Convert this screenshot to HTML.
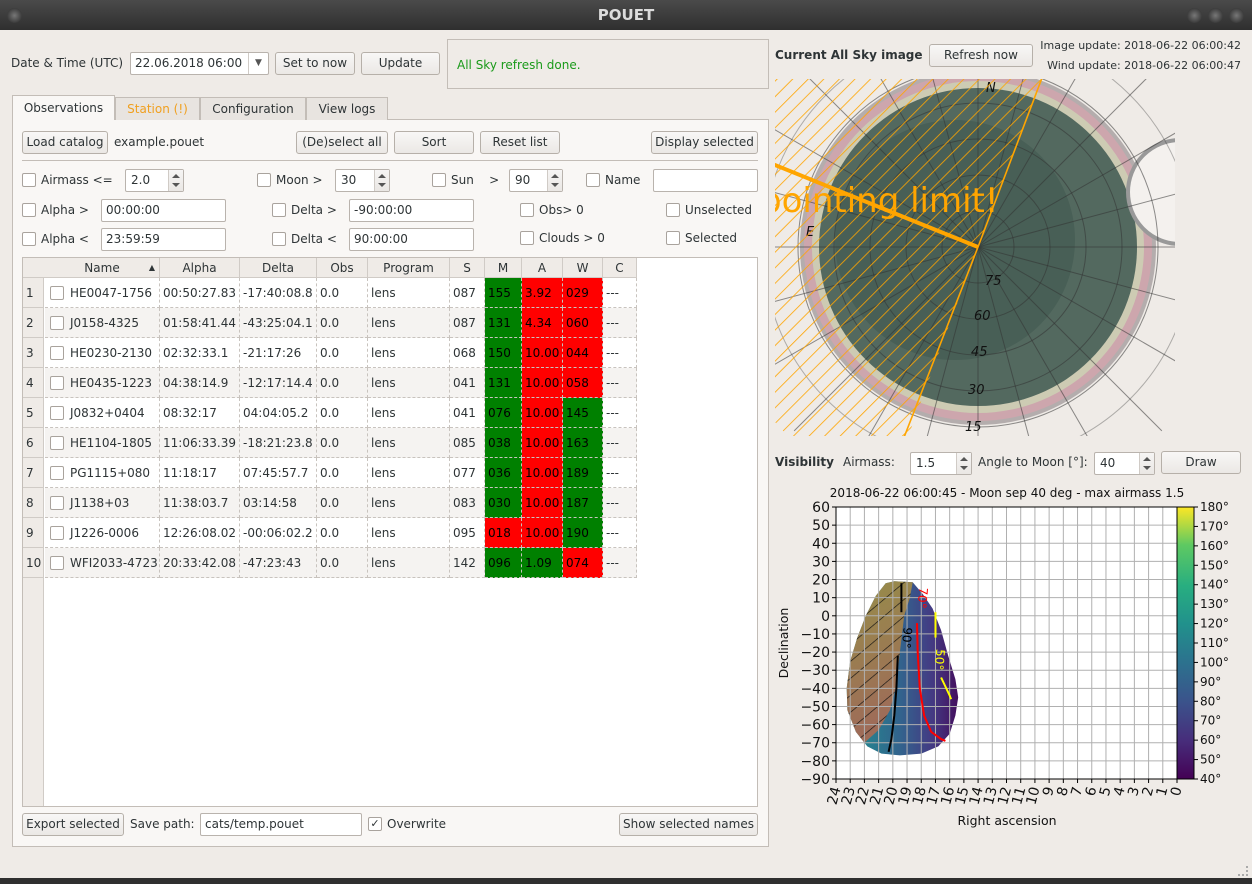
<!DOCTYPE html>
<html><head><meta charset="utf-8">
<style>
*{box-sizing:border-box;margin:0;padding:0}
body{width:1252px;height:884px;overflow:hidden;background:#efebe7;font-family:"DejaVu Sans","Liberation Sans",sans-serif;font-size:12px;color:#2e3436;position:relative}
.a{position:absolute;white-space:nowrap}
.btn{position:absolute;height:23px;border:1px solid #b6b0a9;border-radius:3px;background:linear-gradient(#f8f7f6,#ebe8e5);text-align:center;line-height:21px;font-size:12px;color:#2e3436}
.inp{position:absolute;height:23px;border:1px solid #b9b3ad;border-radius:2px;background:#fff;line-height:21px;padding-left:4px;font-size:12px}
.spin{position:absolute;height:23px;border:1px solid #b9b3ad;border-radius:2px;background:#fff;line-height:21px;padding-left:5px}
.spin:after{content:"";position:absolute;right:0;top:0;width:14px;height:21px;border-left:1px solid #d0cbc6;background:linear-gradient(#f6f5f4,#eae7e4)}
.spin i{position:absolute;right:3px;width:0;height:0;border-left:4px solid transparent;border-right:4px solid transparent;z-index:2}
.spin i.u{top:4px;border-bottom:4px solid #555}
.spin i.d{bottom:4px;border-top:4px solid #555}
.cb{position:absolute;width:14px;height:14px;border:1px solid #a9a39d;border-radius:2px;background:#fff}
.tab{position:absolute;top:97px;height:23px;border:1px solid #c3bdb7;border-bottom:none;background:#e8e4e0;text-align:center;line-height:22px}
</style></head><body>
<div class="a" style="left:0;top:0;width:1252px;height:30px;background:linear-gradient(#4a4a4a,#2f2f2f)"></div>
<div class="a" style="left:0;top:6px;width:1252px;text-align:center;color:#dcdcdc;font-weight:bold;font-size:15px">POUET</div>
<div class="a" style="left:7px;top:8px;width:15px;height:15px;border-radius:50%;background:radial-gradient(#777,#222)"></div>
<div class="a" style="left:1187px;top:8px;width:15px;height:15px;border-radius:50%;background:radial-gradient(#777,#222)"></div>
<div class="a" style="left:1208px;top:8px;width:15px;height:15px;border-radius:50%;background:radial-gradient(#777,#222)"></div>
<div class="a" style="left:1229px;top:8px;width:15px;height:15px;border-radius:50%;background:radial-gradient(#777,#222)"></div>
<div class="a" style="left:0;top:878px;width:1252px;height:6px;background:#2f2f2f"></div>

<div class="a" style="left:11px;top:56px">Date &amp; Time (UTC)</div>
<div class="inp" style="left:130px;top:52px;width:139px">22.06.2018 06:00<span style="position:absolute;right:0;top:0;width:20px;height:21px;border-left:1px solid #d0cbc6;text-align:center;font-size:9px;color:#555">▼</span></div>
<div class="btn" style="left:275px;top:52px;width:80px">Set to now</div>
<div class="btn" style="left:361px;top:52px;width:79px">Update</div>
<div class="a" style="left:447px;top:39px;width:322px;height:50px;border:1px solid #c3bdb7"></div>
<div class="a" style="left:457px;top:58px;color:#1a9a1a">All Sky refresh done.</div>

<div class="a" style="left:12px;top:119px;width:757px;height:728px;border:1px solid #c3bdb7;background:#f9f7f5"></div>
<div class="tab" style="left:12px;top:95px;width:103px;height:25px;background:#f9f7f5;line-height:25px">Observations</div>
<div class="tab" style="left:115px;width:85px;color:#f0a020">Station (!)</div>
<div class="tab" style="left:200px;width:106px">Configuration</div>
<div class="tab" style="left:306px;width:82px">View logs</div>

<div class="btn" style="left:22px;top:131px;width:86px">Load catalog</div>
<div class="a" style="left:114px;top:135px">example.pouet</div>
<div class="btn" style="left:296px;top:131px;width:92px">(De)select all</div>
<div class="btn" style="left:394px;top:131px;width:80px">Sort</div>
<div class="btn" style="left:480px;top:131px;width:80px">Reset list</div>
<div class="btn" style="left:651px;top:131px;width:107px">Display selected</div>
<div class="a" style="left:22px;top:160px;width:736px;height:1px;background:#c3bdb7"></div>

<div class="cb" style="left:22px;top:173px"></div>
<div class="a" style="left:41px;top:173px">Airmass &lt;=</div>
<div class="spin" style="left:125px;top:169px;width:59px">2.0<i class="u"></i><i class="d"></i></div>
<div class="cb" style="left:257px;top:173px"></div>
<div class="a" style="left:276px;top:173px">Moon &gt;</div>
<div class="spin" style="left:335px;top:169px;width:55px">30<i class="u"></i><i class="d"></i></div>
<div class="cb" style="left:432px;top:173px"></div>
<div class="a" style="left:451px;top:173px">Sun &nbsp;&nbsp;&nbsp;&gt;</div>
<div class="spin" style="left:509px;top:169px;width:54px">90<i class="u"></i><i class="d"></i></div>
<div class="cb" style="left:586px;top:173px"></div>
<div class="a" style="left:605px;top:173px">Name</div>
<div class="inp" style="left:653px;top:169px;width:105px"></div>

<div class="cb" style="left:22px;top:203px"></div>
<div class="a" style="left:41px;top:203px">Alpha &gt;</div>
<div class="inp" style="left:101px;top:199px;width:125px">00:00:00</div>
<div class="cb" style="left:272px;top:203px"></div>
<div class="a" style="left:291px;top:203px">Delta &gt;</div>
<div class="inp" style="left:349px;top:199px;width:125px">-90:00:00</div>
<div class="cb" style="left:520px;top:203px"></div>
<div class="a" style="left:539px;top:203px">Obs&gt; 0</div>
<div class="cb" style="left:666px;top:203px"></div>
<div class="a" style="left:685px;top:203px">Unselected</div>

<div class="cb" style="left:22px;top:232px"></div>
<div class="a" style="left:41px;top:232px">Alpha &lt;</div>
<div class="inp" style="left:101px;top:228px;width:125px">23:59:59</div>
<div class="cb" style="left:272px;top:232px"></div>
<div class="a" style="left:291px;top:232px">Delta &lt;</div>
<div class="inp" style="left:349px;top:228px;width:125px">90:00:00</div>
<div class="cb" style="left:520px;top:231px"></div>
<div class="a" style="left:539px;top:231px">Clouds &gt; 0</div>
<div class="cb" style="left:666px;top:231px"></div>
<div class="a" style="left:685px;top:231px">Selected</div>

<div class="a" style="left:22px;top:257px;width:736px;height:550px;border:1px solid #c3bdb7;background:#fff;overflow:hidden">
<div class="a" style="left:0;top:0;width:21px;height:550px;background:#efebe7;border-right:1px solid #d0cbc6"></div>
<div id="tbl"></div>
</div>

<div class="btn" style="left:22px;top:813px;width:102px">Export selected</div>
<div class="a" style="left:130px;top:817px">Save path:</div>
<div class="inp" style="left:200px;top:813px;width:162px">cats/temp.pouet</div>
<div class="cb" style="left:368px;top:817px;font-size:11px;line-height:12px;text-align:center">✓</div>
<div class="a" style="left:387px;top:817px">Overwrite</div>
<div class="btn" style="left:619px;top:813px;width:139px">Show selected names</div>

<div class="a" style="left:775px;top:48px;font-weight:bold">Current All Sky image</div>
<div class="btn" style="left:929px;top:44px;width:104px">Refresh now</div>
<div class="a" style="right:11px;top:39px;font-size:11px">Image update: 2018-06-22 06:00:42</div>
<div class="a" style="right:11px;top:59px;font-size:11px">Wind update: 2018-06-22 06:00:47</div>

<svg class="a" style="left:775px;top:79px" width="400" height="357" viewBox="775 79 400 357">
<defs>
<clipPath id="hc"><circle cx="978" cy="247" r="268"/></clipPath>
<pattern id="hp" width="11" height="11" patternUnits="userSpaceOnUse" patternTransform="rotate(-45)"><line x1="0" y1="0" x2="11" y2="0" stroke="#ffa500" stroke-width="1.6"/></pattern>
</defs>
<circle cx="978" cy="247" r="178" fill="#b4adad"/>
<circle cx="978" cy="247" r="174" fill="#cda6ad"/>
<circle cx="978" cy="247" r="166" fill="#cdcbb3"/>
<circle cx="978" cy="247" r="159" fill="#53695f"/>
<circle cx="955" cy="240" r="120" fill="#485f56"/>
<circle cx="1180" cy="192" r="52" fill="#f4f1ee" stroke="#999" stroke-width="4"/>
<g fill="none" stroke="#333" stroke-opacity="0.55" stroke-width="1">
<circle cx="978" cy="247" r="36"/><circle cx="978" cy="247" r="72"/><circle cx="978" cy="247" r="108"/><circle cx="978" cy="247" r="144"/><circle cx="978" cy="247" r="180"/><circle cx="978" cy="247" r="215" stroke-opacity="0.35"/>
<g id="spokes"></g>
</g>
<g font-size="13" font-style="italic" fill="#111">
<text x="985" y="285">75</text><text x="974" y="320">60</text><text x="971" y="356">45</text><text x="968" y="394">30</text><text x="965" y="431">15</text><text x="986" y="92">N</text><text x="806" y="236">E</text>
</g>
<path d="M978,247 L1045,70 L760,70 L760,445 L905,445 Z" fill="url(#hp)" clip-path="url(#hc)"/>
<path d="M978,247 L1045,70 M978,247 L903,440" stroke="#ffa500" stroke-width="1.6"/>
<line x1="978" y1="247" x2="770" y2="163" stroke="#ffa500" stroke-width="4"/>
<text x="760" y="212" font-size="34" fill="#ffa500">pointing limit!</text>
</svg>

<div class="a" style="left:775px;top:455px;font-weight:bold">Visibility</div>
<div class="a" style="left:843px;top:455px">Airmass:</div>
<div class="spin" style="left:910px;top:452px;width:62px">1.5<i class="u"></i><i class="d"></i></div>
<div class="a" style="left:978px;top:455px">Angle to Moon [°]:</div>
<div class="spin" style="left:1094px;top:452px;width:61px">40<i class="u"></i><i class="d"></i></div>
<div class="btn" style="left:1161px;top:451px;width:80px">Draw</div>

<svg class="a" id="chart" style="left:0;top:0" width="1252" height="884" viewBox="0 0 1252 884"></svg>
<div class="a" style="left:1238px;top:866px;width:10px;height:10px;border-right:2px dotted #aaa;border-bottom:2px dotted #aaa"></div>

<script>
// ---- table data ----
const names=["HE0047-1756","J0158-4325","HE0230-2130","HE0435-1223","J0832+0404","HE1104-1805","PG1115+080","J1138+03","J1226-0006","WFI2033-4723"];
const alphas=["00:50:27.83","01:58:41.44","02:32:33.1","04:38:14.9","08:32:17","11:06:33.39","11:18:17","11:38:03.7","12:26:08.02","20:33:42.08"];
const deltas=["-17:40:08.8","-43:25:04.1","-21:17:26","-12:17:14.4","04:04:05.2","-18:21:23.8","07:45:57.7","03:14:58","-00:06:02.2","-47:23:43"];
const sVals=["087","087","068","041","041","085","077","083","095","142"];
const mVals=["155","131","150","131","076","038","036","030","018","096"];
const aVals=["3.92","4.34","10.00","10.00","10.00","10.00","10.00","10.00","10.00","1.09"];
const wVals=["029","060","044","058","145","163","189","187","190","074"];
const mOk=[1,1,1,1,1,1,1,1,0,1];
const aOk=[0,0,0,0,0,0,0,0,0,1];
const wOk=[0,0,0,0,1,1,1,1,1,0];
const cols=[["Name",22,137],["Alpha",137,217],["Delta",217,294],["Obs",294,345],["Program",345,427],["S",427,462],["M",462,499],["A",499,540],["W",540,580],["C",580,614]];
const tbl=document.getElementById('tbl');
let h='<div class="a" style="left:0;top:0;width:614px;height:20px;background:#efebe7;border-bottom:1px solid #d0cbc6"></div>';
cols.forEach(c=>{h+=`<div class="a" style="left:${c[1]}px;top:0;width:${c[2]-c[1]}px;height:20px;line-height:20px;text-align:center;border-right:1px solid #d0cbc6">${c[0]}${c[0]=="Name"?'<span style="position:absolute;right:4px;font-size:8px">▲</span>':''}</div>`;});
names.forEach((n,i)=>{
 const y=20+i*30, bg=i%2?'#f5f3f1':'#fff';
 h+=`<div class="a" style="left:0;top:${y}px;width:21px;height:30px;line-height:30px;padding-left:3px;border-bottom:1px solid #d0cbc6">${i+1}</div>`;
 const vals=[n,alphas[i],deltas[i],"0.0","lens",sVals[i],mVals[i],aVals[i],wVals[i],"---"];
 const colr=[null,null,null,null,null,null,mOk[i]?'#008000':'#ff0000',aOk[i]?'#008000':'#ff0000',wOk[i]?'#008000':'#ff0000',null];
 cols.forEach((c,j)=>{
  const b=colr[j]||bg;
  h+=`<div class="a" style="left:${c[1]}px;top:${y}px;width:${c[2]-c[1]}px;height:30px;line-height:30px;padding-left:${j==0?25:3}px;background:${b};color:${colr[j]?'#000':'#2e3436'};border-right:1px dashed #c8c3be;border-bottom:1px dashed #c8c3be">${vals[j]}</div>`;
  if(j==0) h+=`<div class="cb" style="left:${c[1]+5}px;top:${y+8}px"></div>`;
 });
});
tbl.innerHTML=h;

// ---- allsky spokes ----
const sp=document.getElementById('spokes');let s='';
for(let a=0;a<360;a+=15){const r=a*Math.PI/180;s+=`<line x1="978" y1="247" x2="${978+260*Math.cos(r)}" y2="${247+260*Math.sin(r)}"/>`;}
sp.innerHTML=s;

// ---- visibility chart data ----
const raTicks=[24,23,22,21,20,19,18,17,16,15,14,13,12,11,10,9,8,7,6,5,4,3,2,1,0];
const decTicks=[60,50,40,30,20,10,0,-10,-20,-30,-40,-50,-60,-70,-80,-90];
const cbTicks=[40,50,60,70,80,90,100,110,120,130,140,150,160,170,180];
const visibleRegion=[[20.5,18],[19.9,19],[18.6,18.5],[17.9,12],[17.2,4],[16.6,-8],[16.1,-22],[15.6,-35],[15.4,-45],[15.6,-55],[16.0,-65],[16.8,-72],[18.0,-76],[19.5,-77],[20.8,-76],[21.8,-72],[22.6,-64],[23.2,-52],[23.25,-40],[23.0,-25],[22.5,-12],[21.9,0],[21.2,11],[20.5,18]];
const moonRegion=[[20.5,18],[19.9,19],[18.6,18.5],[18.8,10],[19.2,0],[19.5,-20],[19.8,-40],[20.2,-52],[21.0,-63],[22.0,-70],[22.6,-64],[23.2,-52],[23.25,-40],[23.0,-25],[22.5,-12],[21.9,0],[21.2,11],[20.5,18]];
const contour90a=[[19.4,18],[19.4,10],[19.4,2]];
const contour90b=[[19.65,-22],[19.75,-40],[19.9,-55],[20.1,-68],[20.3,-75]];
const contour70=[[18.3,-4],[18.25,-20],[18.1,-40],[17.8,-55],[17.3,-64],[16.6,-68],[16.3,-69]];
const contour50a=[[17.0,2],[17.0,-5],[17.0,-12]];
const contour50b=[[16.6,-34],[16.3,-39],[16.0,-44],[15.9,-46]];
const cbMin=40,cbMax=180;

const L=836,R=1177,T=507,B=779;
const xS=ra=>L+(24-ra)/24*(R-L);
const yS=d=>T+(60-d)/150*(B-T);
const cY=v=>B-(v-cbMin)/(cbMax-cbMin)*(B-T);
const NS='http://www.w3.org/2000/svg';
const svg=document.getElementById('chart');
function mk(tag,attrs,parent){const e=document.createElementNS(NS,tag);for(const k in attrs)e.setAttribute(k,attrs[k]);(parent||svg).appendChild(e);return e;}
const pts=a=>a.map(p=>xS(p[0]).toFixed(1)+','+yS(p[1]).toFixed(1)).join(' ');

const defs=mk('defs',{});
defs.innerHTML=`<linearGradient id="vg" gradientUnits="userSpaceOnUse" x1="855" y1="0" x2="958" y2="0"><stop offset="0" stop-color="#23898e"/><stop offset="0.45" stop-color="#33628d"/><stop offset="0.75" stop-color="#443a83"/><stop offset="1" stop-color="#440f5e"/></linearGradient>
<linearGradient id="mg" gradientUnits="userSpaceOnUse" x1="850" y1="590" x2="915" y2="700"><stop offset="0" stop-color="#978c4a"/><stop offset="1" stop-color="#9e6c58"/></linearGradient>
<linearGradient id="cbg" x1="0" y1="1" x2="0" y2="0"><stop offset="0" stop-color="#440154"/><stop offset="0.14" stop-color="#472d7b"/><stop offset="0.28" stop-color="#3b528b"/><stop offset="0.43" stop-color="#2c728e"/><stop offset="0.57" stop-color="#21918c"/><stop offset="0.71" stop-color="#28ae80"/><stop offset="0.86" stop-color="#5ec962"/><stop offset="1" stop-color="#fde725"/></linearGradient>
<pattern id="mh" width="13" height="13" patternUnits="userSpaceOnUse" patternTransform="rotate(-40)"><line x1="0" y1="0" x2="13" y2="0" stroke="#111" stroke-width="1.3"/></pattern>`;

mk('rect',{x:L,y:T,width:R-L,height:B-T,fill:'#fff'});
const vis=mk('polygon',{points:pts(visibleRegion),fill:'url(#vg)'});


const moon=mk('polygon',{points:pts(moonRegion),fill:'url(#mg)'});


mk('polygon',{points:pts(moonRegion),fill:'url(#mh)'});
raTicks.forEach(r=>{const g=mk('line',{x1:xS(r),x2:xS(r),y1:T,y2:B,stroke:'#b0b0b0','stroke-width':1});
});
decTicks.forEach(d=>{const g=mk('line',{x1:L,x2:R,y1:yS(d),y2:yS(d),stroke:'#b0b0b0','stroke-width':1});
});
[[contour90a,'#000'],[contour90b,'#000'],[contour70,'#f00'],[contour50a,'#ff0'],[contour50b,'#ff0']].forEach(c=>{
 const l=mk('polyline',{points:pts(c[0]),fill:'none',stroke:c[1],'stroke-width':2});
 
 
});
const lab=(t,ra,d,col,rot)=>{const e=mk('text',{x:xS(ra),y:yS(d),fill:col,'font-size':12,'text-anchor':'middle',transform:`rotate(${rot} ${xS(ra)} ${yS(d)})`});e.textContent=t;
};
lab('90°',19.3,-12,'#000',95);lab('70°',18.2,10,'#f00',95);lab('50°',17.0,-24,'#ff0',95);
mk('rect',{x:L,y:T,width:R-L,height:B-T,fill:'none',stroke:'#000','stroke-width':1});
decTicks.forEach(d=>{mk('line',{x1:L-4,x2:L,y1:yS(d),y2:yS(d),stroke:'#000'});
 const t=mk('text',{x:L-6,y:yS(d)+5,'text-anchor':'end','font-size':14,fill:'#111'});t.textContent=String(d).replace('-','−');
 });
raTicks.forEach(r=>{mk('line',{x1:xS(r),x2:xS(r),y1:B,y2:B+4,stroke:'#000'});
 const x=xS(r),y=B+8;const t=mk('text',{x:x,y:y,'text-anchor':'end','font-size':14,fill:'#111',transform:`rotate(-75 ${x} ${y})`,dy:5});t.textContent=r;
 });
const cb=mk('rect',{x:1177,y:T,width:17,height:B-T,fill:'url(#cbg)',stroke:'#000','stroke-width':1});

cbTicks.forEach(v=>{mk('line',{x1:1194,x2:1198,y1:cY(v),y2:cY(v),stroke:'#000'});
 const t=mk('text',{x:1200,y:cY(v)+4,'font-size':12,fill:'#111'});t.textContent=v+'°';
 });
const title=mk('text',{x:1007,y:497,'text-anchor':'middle','font-size':12,fill:'#111'});title.textContent='2018-06-22 06:00:45 - Moon sep 40 deg - max airmass 1.5';

const xt=mk('text',{x:1007,y:825,'text-anchor':'middle','font-size':12.5,fill:'#111'});xt.textContent='Right ascension';

const yt=mk('text',{x:788,y:643,'text-anchor':'middle','font-size':12.5,fill:'#111',transform:'rotate(-90 788 643)'});yt.textContent='Declination';

</script>
</body></html>
